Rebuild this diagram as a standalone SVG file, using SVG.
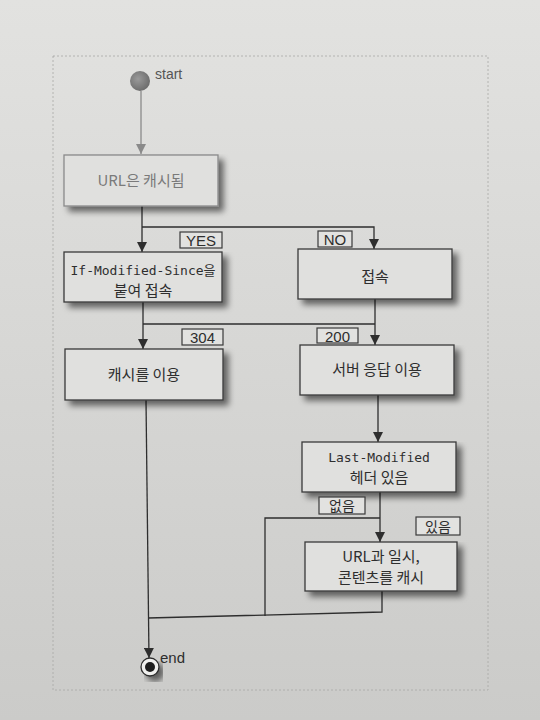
<svg xmlns="http://www.w3.org/2000/svg" width="540" height="720" viewBox="0 0 540 720">
<defs>
<linearGradient id="bg" x1="0" y1="0" x2="0" y2="1">
<stop offset="0" stop-color="#e2e2e0"/>
<stop offset="1" stop-color="#cbcbc9"/>
</linearGradient>
<radialGradient id="startG" cx="0.4" cy="0.4" r="0.6">
<stop offset="0" stop-color="#9a9a9a"/>
<stop offset="1" stop-color="#6e6e6e"/>
</radialGradient>
<filter id="sh" x="-10%" y="-10%" width="130%" height="140%">
<feGaussianBlur in="SourceAlpha" stdDeviation="3"/>
<feOffset dx="5" dy="5" result="b"/>
<feComponentTransfer><feFuncA type="linear" slope="0.55"/></feComponentTransfer>
<feMerge><feMergeNode/><feMergeNode in="SourceGraphic"/></feMerge>
</filter>
<marker id="ah" viewBox="0 0 10 10" refX="10" refY="5" markerWidth="10" markerHeight="10" markerUnits="userSpaceOnUse" orient="auto">
<path d="M0,0 L10,5 L0,10 z" fill="#2e2e2e"/>
</marker>
<marker id="ahg" viewBox="0 0 10 10" refX="10" refY="5" markerWidth="10" markerHeight="10" markerUnits="userSpaceOnUse" orient="auto">
<path d="M0,0 L10,5 L0,10 z" fill="#8a8a8a"/>
</marker>
</defs>
<style>
.box{fill:#e0e0de;stroke:#3a3a3a;stroke-width:1.3}
.gbox{fill:#e0e0de;stroke:#8a8a8a;stroke-width:1.3}
.lbl{fill:#e2e2e0;stroke:#3a3a3a;stroke-width:1.2}
.t{font-family:"Noto Sans CJK KR","Noto Sans",sans-serif;font-size:15px;fill:#2e2e2e;text-anchor:middle}
.m{font-family:"DejaVu Sans Mono","Liberation Mono","Noto Sans CJK KR",monospace;font-size:13px;fill:#2e2e2e;text-anchor:middle}
.g{fill:#7a7a7a}
.s{font-family:"Liberation Sans","Noto Sans CJK KR",sans-serif;font-size:15px;fill:#2e2e2e;text-anchor:middle}
.line{fill:none;stroke:#2e2e2e;stroke-width:1.3}
.gline{fill:none;stroke:#8a8a8a;stroke-width:1.3}
</style>
<rect x="0" y="0" width="540" height="720" fill="url(#bg)"/>
<rect x="53" y="56" width="435" height="634" fill="none" stroke="#a8a8a6" stroke-width="0.8" stroke-dasharray="2,2"/>

<g id="connectors">
<path class="gline" d="M141,91 V154" marker-end="url(#ahg)"/>
<path class="line" d="M142,206 V252" marker-end="url(#ah)"/>
<path class="line" d="M142,227 H374 V249" marker-end="url(#ah)"/>
<path class="line" d="M143,302 V349" marker-end="url(#ah)"/>
<path class="line" d="M143,324 H375"/>
<path class="line" d="M375,299 V345" marker-end="url(#ah)"/>
<path class="line" d="M378,395 V442" marker-end="url(#ah)"/>
<path class="line" d="M380,492 V542" marker-end="url(#ah)"/>
<path class="line" d="M380,518 H265 V616"/>
<path class="line" d="M382,591 V612 L148,618"/>
<path class="line" d="M146,400 L149,658" marker-end="url(#ah)"/>
</g>

<g id="start">
<circle cx="140" cy="81" r="10" fill="url(#startG)"/>
<text x="155" y="79" class="s" style="text-anchor:start;fill:#555;font-size:14px">start</text>
</g>

<g id="n1">
<rect class="gbox" x="64" y="155" width="154" height="51" filter="url(#sh)"/>
<text x="141" y="186" class="t g">URL은 캐시됨</text>
</g>

<g id="n2">
<rect class="box" x="64" y="252" width="158" height="50" filter="url(#sh)"/>
<text x="143" y="275" class="m">If-Modified-Since을</text>
<text x="143" y="296" class="t">붙여 접속</text>
</g>

<g id="n3">
<rect class="box" x="298" y="249" width="154" height="50" filter="url(#sh)"/>
<text x="375" y="282" class="t">접속</text>
</g>

<g id="n4">
<rect class="box" x="65" y="349" width="158" height="51" filter="url(#sh)"/>
<text x="144" y="380" class="t">캐시를 이용</text>
</g>

<g id="n5">
<rect class="box" x="300" y="345" width="154" height="50" filter="url(#sh)"/>
<text x="377" y="375" class="t">서버 응답 이용</text>
</g>

<g id="n6">
<rect class="box" x="302" y="442" width="154" height="50" filter="url(#sh)"/>
<text x="379" y="462" class="m">Last-Modified</text>
<text x="379" y="483" class="t">헤더 있음</text>
</g>

<g id="n7">
<rect class="box" x="305" y="542" width="152" height="49" filter="url(#sh)"/>
<text x="381" y="562" class="t">URL과 일시,</text>
<text x="381" y="583" class="t">콘텐츠를 캐시</text>
</g>

<g id="end">
<circle cx="150" cy="667" r="9" fill="#f0f0ee" stroke="#2e2e2e" stroke-width="1.3" filter="url(#sh)"/>
<circle cx="150" cy="667" r="5" fill="#1e1e1e"/>
<text x="160" y="663" class="s" style="text-anchor:start">end</text>
</g>

<g id="labels">
<rect class="lbl" x="180" y="232" width="42" height="16"/>
<text x="201" y="246" class="s">YES</text>
<rect class="lbl" x="318" y="231" width="34" height="16"/>
<text x="335" y="245" class="s">NO</text>
<rect class="lbl" x="182" y="329" width="41" height="16"/>
<text x="202.5" y="343" class="s">304</text>
<rect class="lbl" x="317" y="328" width="41" height="15"/>
<text x="337.5" y="341.5" class="s">200</text>
<rect class="lbl" x="319" y="497" width="46" height="17"/>
<text x="342" y="510.5" class="t" style="font-size:14px">없음</text>
<rect class="lbl" x="416" y="517" width="44" height="18"/>
<text x="438" y="531.5" class="t" style="font-size:14px">있음</text>
</g>
</svg>
